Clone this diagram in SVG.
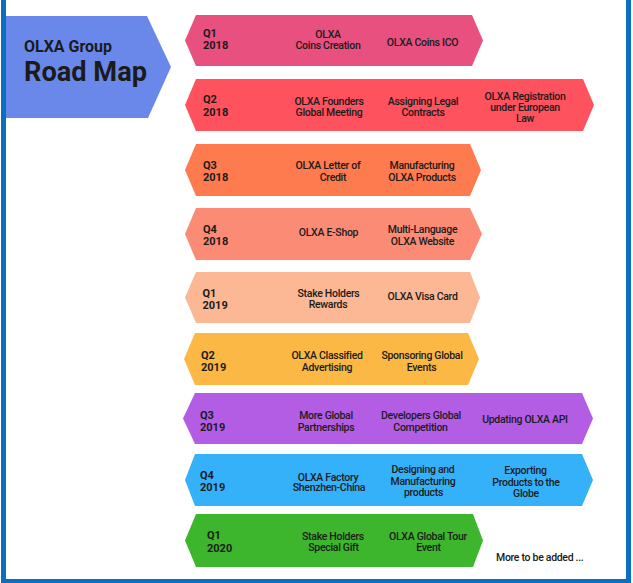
<svg xmlns="http://www.w3.org/2000/svg" width="633" height="583" viewBox="0 0 633 583">
<style>
.q{font-family:Roboto,"Liberation Sans",sans-serif;font-weight:700;font-size:11px;fill:#1b1b1b}
.t{font-family:Roboto,"Liberation Sans",sans-serif;font-weight:500;font-size:10.5px;fill:#1b1b1b;text-anchor:middle;letter-spacing:-0.3px}
.ttl{font-family:Roboto,"Liberation Sans",sans-serif;font-weight:700;fill:#1b1b1b}
</style>
<rect x="0" y="0" width="633" height="583" fill="#ffffff"/>
<rect x="3.5" y="-10" width="625" height="591.5" fill="none" stroke="#0A6FC3" stroke-width="5"/>
<g id="title">
<path d="M6,16 L147,16 L171,67 L148,118 L6,118 Z" fill="#6A88EA"/>
<text class="ttl" x="24" y="52" font-size="17" textLength="88" lengthAdjust="spacingAndGlyphs">OLXA Group</text>
<text class="ttl" x="24" y="81" font-size="27" textLength="123" lengthAdjust="spacingAndGlyphs">Road Map</text>
</g>
<g id="q1-2018">
<path d="M185,40.5 L196,15 L472,15 L483,40.5 L472,66 L196,66 Z" fill="#E8507F"/>
<text class="q" x="203" y="37">Q1</text><text class="q" x="203" y="49">2018</text>
<text class="t" x="328" y="38">OLXA</text><text class="t" x="328" y="49">Coins Creation</text>
<text class="t" x="422.5" y="45.5">OLXA Coins ICO</text>
</g>
<g id="q2-2018">
<path d="M185,105 L196,79 L583,79 L594,105 L583,131 L196,131 Z" fill="#FE525E"/>
<text class="q" x="203" y="103">Q2</text><text class="q" x="203" y="115.5">2018</text>
<text class="t" x="329" y="104.5">OLXA Founders</text><text class="t" x="329" y="115.5">Global Meeting</text>
<text class="t" x="423" y="104.5">Assigning Legal</text><text class="t" x="423" y="115.5">Contracts</text>
<text class="t" x="525" y="100">OLXA Registration</text><text class="t" x="525" y="111">under European</text><text class="t" x="525" y="122">Law</text>
</g>
<g id="q3-2018">
<path d="M185,170 L196,144 L470,144 L481,170 L470,196 L196,196 Z" fill="#FE7A4F"/>
<text class="q" x="203" y="169">Q3</text><text class="q" x="203" y="181">2018</text>
<text class="t" x="328" y="169.3">OLXA Letter of</text><text class="t" x="333" y="181">Credit</text>
<text class="t" x="422" y="169.3">Manufacturing</text><text class="t" x="422" y="181">OLXA Products</text>
</g>
<g id="q4-2018">
<path d="M185,234 L196,208 L470,208 L482,234 L470,260 L196,260 Z" fill="#FC8B75"/>
<text class="q" x="203" y="233">Q4</text><text class="q" x="203" y="245">2018</text>
<text class="t" x="328.5" y="236">OLXA E-Shop</text>
<text class="t" x="422.5" y="233">Multi-Language</text><text class="t" x="422.5" y="245">OLXA Website</text>
</g>
<g id="q1-2019">
<path d="M185,297.5 L196,272 L470,272 L480,297.5 L470,323 L196,323 Z" fill="#FCB894"/>
<text class="q" x="202.5" y="297">Q1</text><text class="q" x="202.5" y="308.5">2019</text>
<text class="t" x="328.5" y="297.3">Stake Holders</text><text class="t" x="328" y="308.3">Rewards</text>
<text class="t" x="422.5" y="300">OLXA Visa Card</text>
</g>
<g id="q2-2019">
<path d="M184,359 L195,333 L468,333 L479,359 L468,385 L195,385 Z" fill="#FBB844"/>
<text class="q" x="201" y="359">Q2</text><text class="q" x="201" y="371">2019</text>
<text class="t" x="327" y="359.3">OLXA Classified</text><text class="t" x="327" y="370.7">Advertising</text>
<text class="t" x="422" y="359.3">Sponsoring Global</text><text class="t" x="421.5" y="370.7">Events</text>
</g>
<g id="q3-2019">
<path d="M183,418.5 L195,393 L582,393 L593,418.5 L582,444 L195,444 Z" fill="#B35DE5"/>
<text class="q" x="200" y="419">Q3</text><text class="q" x="200" y="431">2019</text>
<text class="t" x="326" y="419.3">More Global</text><text class="t" x="326" y="430.5">Partnerships</text>
<text class="t" x="421" y="419.3">Developers Global</text><text class="t" x="420.5" y="430.5">Competition</text>
<text class="t" x="525" y="423.3">Updating OLXA API</text>
</g>
<g id="q4-2019">
<path d="M185,480 L195,454 L582,454 L593,480 L582,506 L195,506 Z" fill="#35B1FA"/>
<text class="q" x="200" y="479">Q4</text><text class="q" x="200" y="490.5">2019</text>
<text class="t" x="328" y="480.7">OLXA Factory</text><text class="t" x="329" y="490.7">Shenzhen-China</text>
<text class="t" x="423" y="473.3">Designing and</text><text class="t" x="423" y="485">Manufacturing</text><text class="t" x="423.5" y="496">products</text>
<text class="t" x="525.5" y="474.3">Exporting</text><text class="t" x="526" y="486">Products to the</text><text class="t" x="526" y="497.3">Globe</text>
</g>
<g id="q1-2020">
<path d="M185,540.5 L196,514 L473,514 L483,540.5 L473,567 L196,567 Z" fill="#3DB52C"/>
<text class="q" x="207" y="539">Q1</text><text class="q" x="207" y="552">2020</text>
<text class="t" x="333" y="540">Stake Holders</text><text class="t" x="333.5" y="550.7">Special Gift</text>
<text class="t" x="428" y="540">OLXA Global Tour</text><text class="t" x="428.5" y="550.7">Event</text>
</g>
<g id="connectors"></g>
<text x="496" y="561" font-family="Roboto,'Liberation Sans',sans-serif" font-weight="500" font-size="10.5" fill="#1b1b1b" letter-spacing="-0.3">More to be added ...</text>
</svg>
